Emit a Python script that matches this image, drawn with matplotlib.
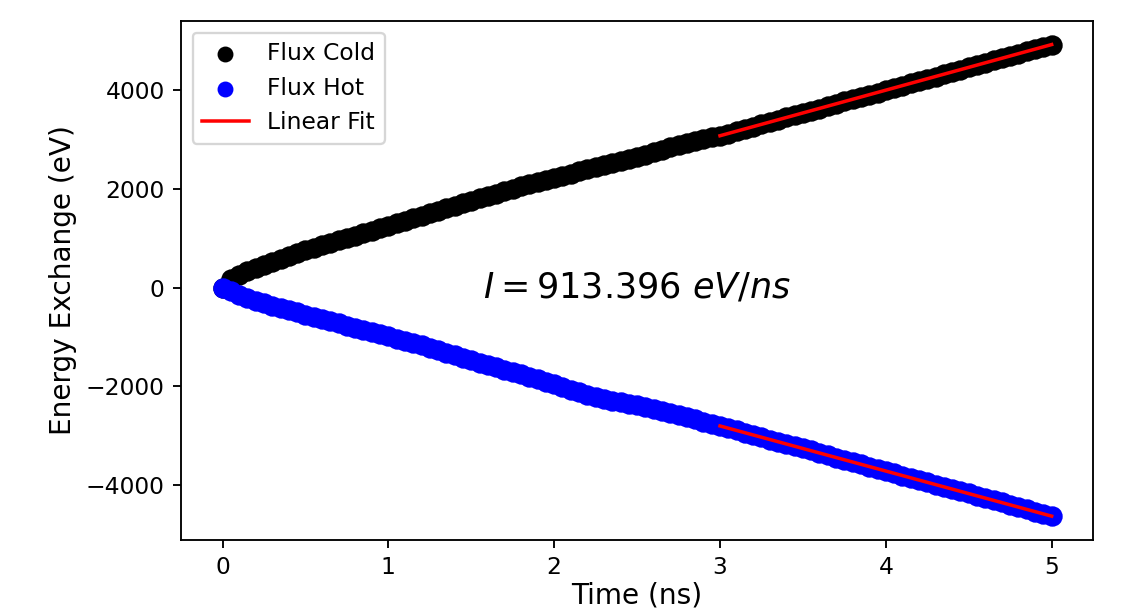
import numpy as np
import matplotlib
matplotlib.use('Agg')
import matplotlib.pyplot as plt

# time samples (ns), one every 0.05 ns
time_ns = np.linspace(0, 5, 101)

# energy exchange (eV)
flux_cold = [
    0, 170, 264, 335, 400, 460, 520, 575, 640, 700,
    757, 805, 855, 905, 955, 1000, 1050, 1100, 1155, 1205,
    1255, 1300, 1345, 1400, 1455, 1510, 1560, 1610, 1660, 1705,
    1755, 1805, 1855, 1905, 1955, 2005, 2055, 2100, 2145, 2185,
    2225, 2265, 2310, 2355, 2395, 2435, 2475, 2520, 2560, 2605,
    2650, 2695, 2745, 2795, 2845, 2890, 2935, 2975, 3010, 3045,
    3075, 3120, 3165, 3215, 3260, 3305, 3355, 3400, 3445, 3490,
    3535, 3580, 3625, 3675, 3725, 3770, 3815, 3860, 3905, 3950,
    4000, 4045, 4090, 4135, 4180, 4225, 4270, 4320, 4365, 4410,
    4460, 4505, 4555, 4600, 4645, 4690, 4735, 4785, 4830, 4875,
    4920,
]
flux_hot = [
    0, -75, -140, -210, -270, -320, -365, -410, -455, -500,
    -545, -590, -635, -680, -725, -770, -810, -850, -895, -940,
    -985, -1030, -1075, -1120, -1165, -1215, -1265, -1315, -1365, -1415,
    -1470, -1525, -1570, -1615, -1660, -1705, -1755, -1805, -1855, -1905,
    -1960, -2015, -2065, -2115, -2170, -2220, -2255, -2285, -2315, -2345,
    -2380, -2415, -2455, -2495, -2535, -2570, -2610, -2660, -2710, -2755,
    -2800, -2845, -2890, -2935, -2985, -3030, -3075, -3120, -3165, -3205,
    -3250, -3295, -3345, -3395, -3440, -3485, -3530, -3575, -3625, -3670,
    -3715, -3760, -3805, -3850, -3895, -3940, -3985, -4030, -4075, -4120,
    -4165, -4210, -4255, -4300, -4345, -4395, -4445, -4490, -4540, -4585,
    -4630,
]
fit_start = 3.0
label_text = r'$I = 913.396\ eV/ns$'

fig = plt.figure(figsize=(1133 / 168, 613 / 168), dpi=168)
ax = fig.add_axes([0.1598, 0.1191, 0.805, 0.8467])

cold = np.array(flux_cold)
hot = np.array(flux_hot)

ax.scatter(time_ns, cold, color='black', s=60, label='Flux Cold')
ax.scatter(time_ns, hot, color='blue', s=60, label='Flux Hot')

# linear fit over the late part of each curve
mask = time_ns >= fit_start
t_fit = time_ns[mask]
p_cold = np.polyfit(t_fit, cold[mask], 1)
p_hot = np.polyfit(t_fit, hot[mask], 1)
ax.plot(t_fit, np.polyval(p_cold, t_fit), color='red', label='Linear Fit')
ax.plot(t_fit, np.polyval(p_hot, t_fit), color='red')

ax.text(1.57, 0, label_text, fontsize=15, va='center', ha='left')

ax.set_xlabel('Time (ns)', fontsize=12, labelpad=1)
ax.set_ylabel('Energy Exchange (eV)', fontsize=12)
ax.legend(loc='upper left', markerscale=0.75)

fig.savefig('out.png', dpi=168)
